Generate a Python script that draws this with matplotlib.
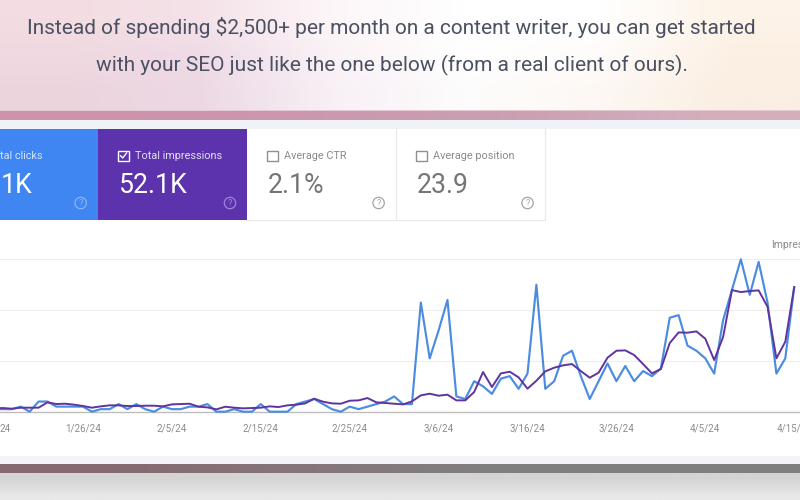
import numpy as np
import pandas as pd
import matplotlib
matplotlib.use("Agg")
import matplotlib.pyplot as plt
from matplotlib.patches import Rectangle, Circle
from matplotlib.colors import to_rgb

# ---- data ----
start_date = "2024-01-16"
impressions = [66,72,59,79,79,79,184,151,157,138,112,79,105,125,125,112,112,118,118,105,
               144,151,157,98,85,46,98,79,66,72,79,105,92,125,138,164,256,197,164,157,
               216,223,269,184,171,157,144,203,321,354,315,335,223,223,387,781,485,754,787,676,
               453,610,794,866,912,938,800,669,768,1063,1200,1207,1115,938,754,840,1351,1561,1555,1581,
               1437,1017,1469,2394,2355,2375,2388,2066,1050,1378,2453]
clicks = [1,1,1,2,0,4,4,2,2,2,2,0,1,1,3,1,3,1,0,2,
          1,1,2,2,3,0,0,1,0,0,3,0,0,0,3,4,5,3,1,0,
          2,1,2,3,4,6,3,3,43,21,32,44,6,5,12,10,7,13,14,9,
          15,50,9,12,22,24,14,5,12,19,12,18,12,16,14,17,37,38,26,24,
          21,15,36,48,60,46,59,43,15,21,49]
tick_dates = ["2024-01-26","2024-02-05","2024-02-15","2024-02-25",
              "2024-03-06","2024-03-16","2024-03-26","2024-04-05"]
tick_labels = ["1/26/24","2/5/24","2/15/24","2/25/24",
               "3/6/24","3/16/24","3/26/24","4/5/24"]
edge_labels = ["24", "4/15/"]
heading = ["Instead of spending $2,500+ per month on a content writer, you can get started",
           "with your SEO just like the one below (from a real client of ours)."]
card_labels = ["tal clicks", "Total impressions", "Average CTR", "Average position"]
card_values = ["1K", "52.1K", "2.1%", "23.9"]

dates = pd.date_range(start_date, periods=len(impressions), freq="D")

W, H = 800, 500
fig = plt.figure(figsize=(8, 5), dpi=100, facecolor="white")
bg = fig.add_axes([0, 0, 1, 1], zorder=0)
bg.set_xlim(0, W); bg.set_ylim(H, 0); bg.axis("off")


def grad(x0, x1, y0, y1, grid):
    arr = np.array([[to_rgb(c) for c in row] for row in grid])
    bg.imshow(arr, extent=(x0, x1, y1, y0), aspect="auto", interpolation="bilinear", zorder=1)
    bg.set_xlim(0, W); bg.set_ylim(H, 0)


# page background bands
grad(0, W, 0, 110, [["#f3dde2", "#f4e2e8", "#fdf6f8", "#ffffff", "#ffffff", "#fdf3e8"],
                    ["#f0d9e0", "#efdbe6", "#faf2f6", "#ffffff", "#fefcfa", "#fcf0e4"],
                    ["#ecd4dd", "#ecd8e4", "#f8f0f5", "#fdfcfc", "#fdf8f3", "#fbeee2"]])
grad(0, W, 110.5, 120, [["#cc93ab", "#cc97af", "#ca9fb1", "#d3afbc"]])
bg.add_patch(Rectangle((0, 109.5), W, 1.2, fc="#e2c9d2", ec="none", zorder=2))
bg.add_patch(Rectangle((0, 120), W, 9, fc="#eff2f6", ec="none", zorder=2))
bg.add_patch(Rectangle((0, 129), W, 327, fc="white", ec="none", zorder=2))
bg.add_patch(Rectangle((0, 456), W, 7.5, fc="#f2f4f7", ec="none", zorder=2))
grad(0, W, 463.5, 473.5, [["#85696f", "#85757a", "#808080", "#7f7f7f"]])
grad(0, W, 473.5, H, [["#d4d4d4"], ["#dcdcdc"], ["#e8e8e8"]])

RB = "Roboto"
t1 = bg.text(391.5, 28, heading[0], family=RB, fontsize=14.4, color="#4b5162",
             ha="center", va="center", zorder=5)
t2 = bg.text(392, 65, heading[1], family=RB, fontsize=14.4, color="#4b5162",
             ha="center", va="center", zorder=5)
fig.canvas.draw()
w = t1.get_window_extent().width
print("heading width at 14.4:", w)
fs = 14.4 * 730 / w
t1.set_fontsize(fs); t2.set_fontsize(fs)
print("fs", fs, "line2", t2.get_window_extent().width)

# metric cards
bg.add_patch(Rectangle((0, 129), 98, 90.5, fc="#3f86f2", ec="none", zorder=3))
bg.add_patch(Rectangle((98, 129), 149, 90.5, fc="#5c33ad", ec="none", zorder=3))
bg.plot([247, 544.6, 544.6], [220, 220, 129], color="#e9e9e9", lw=0.9, zorder=3)
bg.plot([395.5, 395.5], [129, 220], color="#e9e9e9", lw=0.9, zorder=3)

LBL, VAL = 7.8, 19.2
bg.text(0.5, 156.2, card_labels[0], family=RB, fontsize=LBL, color="#d5e4fb", ha="left", va="center", zorder=5)
bg.text(0.5, 185.5, card_values[0], family=RB, fontsize=VAL, color="white", ha="left", va="center", zorder=5)

label_x = [135, 284, 433]
value_x = [119, 267.5, 416.4]
box_x = [118, 267, 416]
help_x = [80.7, 230, 378.6, 527.5]
for j in range(3):
    on = j == 0
    txt = "#e6dff5" if on else "#8a8a8a"
    val = "white" if on else "#757575"
    bg.text(label_x[j], 156.2, card_labels[j + 1], family=RB, fontsize=LBL, color=txt, va="center", zorder=5)
    bg.text(value_x[j], 185.5, card_values[j + 1], family=RB, fontsize=VAL, color=val, va="center", zorder=5)
    bg.add_patch(Rectangle((box_x[j], 150.5), 11, 10.5, fc="none", ec=("white" if on else "#8f8f8f"), lw=1.0, zorder=5))
bg.plot([120.5, 122.7, 126.6], [155.7, 158, 153], color="white", lw=1.0, zorder=6)

for j, cx in enumerate(help_x):
    col = "#8db5f5" if j == 0 else ("#9d84d4" if j == 1 else "#a5a5a5")
    bg.add_patch(Circle((cx, 203), 5.7, fc="none", ec=col, lw=0.9, zorder=5))
    bg.text(cx, 203.2, "?", family=RB, fontsize=6.5, color=col, ha="center", va="center", zorder=6)

bg.text(771.5, 245, "Impres", family=RB, fontsize=7.5, color="#8a8a8a", va="center", zorder=5)
bg.text(11, 428.7, edge_labels[0], family=RB, fontsize=7.0, color="#8c8c8c", ha="right", va="center", zorder=5)
bg.text(776.7, 428.7, edge_labels[1], family=RB, fontsize=7.0, color="#8c8c8c", ha="left", va="center", zorder=5)

# chart: axes run past the canvas edges so the lines leave the canvas as in the reference
px_left, px_right, px_top, px_base = -30.0, 830.0, 259.3, 411.7
ax = fig.add_axes([px_left / W, 1 - px_base / H, (px_right - px_left) / W, (px_base - px_top) / H], zorder=2)
ax.patch.set_alpha(0)
per_day = 8.89
x0_px = -5.9
t0 = matplotlib.dates.date2num(dates[0])
ax.set_xlim(t0 + (px_left - x0_px) / per_day, t0 + (px_right - x0_px) / per_day)
ax.set_ylim(0, 3000)
ax.set_yticks([0, 1000, 2000, 3000])
ax.set_yticklabels([])
ax.grid(axis="y", color="#eeeeee", lw=0.8)
ax.set_axisbelow(True)
for s in ["top", "left", "right"]:
    ax.spines[s].set_visible(False)
ax.spines["bottom"].set_color("#bdbdbd")
ax.spines["bottom"].set_linewidth(1.0)
ax.tick_params(axis="y", length=0)
ax.tick_params(axis="x", length=0, pad=8.2, labelsize=7.0, labelcolor="#8c8c8c")
ax.set_xticks(pd.to_datetime(tick_dates))
ax.set_xticklabels(tick_labels, family=RB)

ax2 = ax.twinx()
ax2.set_ylim(0, 60)
ax2.axis("off")
ax2.plot(dates, clicks, color="#4c8ce0", lw=1.55, clip_on=False, zorder=3)
ax3 = ax.twinx()
ax3.set_ylim(0, 3000)
ax3.axis("off")
ax3.plot(dates, impressions, color="#5e35a0", lw=1.4, clip_on=False, zorder=4)

fig.savefig("out.png", dpi=100)
